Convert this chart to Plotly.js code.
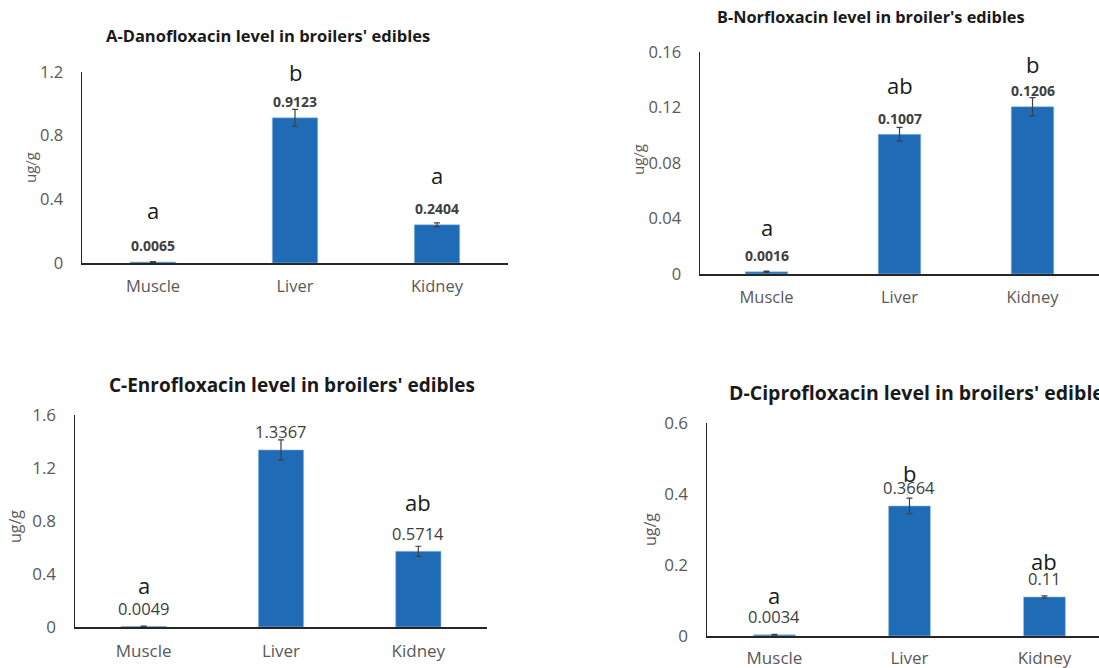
<!DOCTYPE html>
<html>
<head>
<meta charset="utf-8">
<script src="https://cdn.plot.ly/plotly-3.0.1.min.js"></script>
<style>html,body{margin:0;padding:0;background:#fff;}#chart{width:1099px;height:668px;}</style>
</head>
<body>
<div id="chart"></div>
<script>
// ---- data ----
const categories = ["Muscle", "Liver", "Kidney"];
const danofloxacin = [0.0065, 0.9123, 0.2404];
const danofloxacinErr = [0.003, 0.053, 0.012];
const danofloxacinLetters = ["a", "b", "a"];
const norfloxacin = [0.0016, 0.1007, 0.1206];
const norfloxacinErr = [0.0005, 0.005, 0.0065];
const norfloxacinLetters = ["a", "ab", "b"];
const enrofloxacin = [0.0049, 1.3367, 0.5714];
const enrofloxacinErr = [0.002, 0.075, 0.038];
const enrofloxacinLetters = ["a", "b", "ab"];
const ciprofloxacin = [0.0034, 0.3664, 0.11];
const ciprofloxacinErr = [0.001, 0.022, 0.003];
const ciprofloxacinLetters = ["a", "b", "ab"];
const titles = [
  "A-Danofloxacin level in broilers' edibles",
  "B-Norfloxacin level in broiler's edibles",
  "C-Enrofloxacin level in broilers' edibles",
  "D-Ciprofloxacin level in broilers' edibles"
];
const unitLabel = "ug/g";

// ---- styling / layout config ----
const W = 1099, H = 668;
const FONT = "'Open Sans', Lato, sans-serif";
const BAR = "#1f6bb5";
const panels = [
  {vals: danofloxacin, err: danofloxacinErr, letters: danofloxacinLetters, letterY: [0.333, 1.2, 0.553],
   x0: 82, x1: 508, yTop: 72, yBot: 263, range: [0, 1.2], dtick: 0.4, xr: [-0.5, 2.5], bw: 0.32,
   tickSize: 16.5, valSize: 14, valBold: true, valShift: 16, letSize: 22, xStand: 8,
   title: {x: 268, y: 35, size: 16.5, anchor: "center"}, unit: {x: 30, y: 168, size: 15}},
  {vals: norfloxacin, err: norfloxacinErr, letters: norfloxacinLetters, letterY: [0.0339, 0.1362, 0.1514],
   x0: 700, x1: 1099, yTop: 52, yBot: 274, range: [0, 0.16], dtick: 0.04, xr: [-0.5, 2.5], bw: 0.32,
   tickSize: 16.5, valSize: 14, valBold: true, valShift: 16, letSize: 22, xStand: 8,
   title: {x: 871, y: 17, size: 16.3, anchor: "center"}, unit: {x: 638, y: 160, size: 15}},
  {vals: enrofloxacin, err: enrofloxacinErr, letters: enrofloxacinLetters, letterY: [0.317, 1.623, 0.943],
   x0: 75, x1: 487, yTop: 415, yBot: 627, range: [0, 1.6], dtick: 0.4, xr: [-0.5, 2.5], bw: 0.33,
   tickSize: 17, valSize: 16.5, valBold: false, valShift: 18, letSize: 22, xStand: 8,
   title: {x: 292, y: 385, size: 19, anchor: "center"}, unit: {x: 15, y: 527, size: 16}},
  {vals: ciprofloxacin, err: ciprofloxacinErr, letters: ciprofloxacinLetters, letterY: [0.46, 0.46, 0.21],
   x0: 707, x1: 1099, yTop: 423, yBot: 636, range: [0, 0.6], dtick: 0.2, xr: [-0.5, 2.404], bw: 0.31,
   tickSize: 17, valSize: 16.5, valBold: false, valShift: 18, letSize: 22, xStand: 6,
   title: {x: 727, y: 393, size: 19.5, anchor: "left"}, unit: {x: 650, y: 530, size: 16}}
];
panels[3].letterY[0] = 0.116;

const traces = [];
const layout = {
  width: W, height: H,
  margin: {l: 0, r: 0, t: 0, b: 0},
  paper_bgcolor: "#fff", plot_bgcolor: "rgba(0,0,0,0)",
  showlegend: false,
  font: {family: FONT, color: "#595959"},
  annotations: []
};

panels.forEach((p, i) => {
  const n = i + 1;
  const xa = "x" + (n === 1 ? "" : n), ya = "y" + (n === 1 ? "" : n);
  const xk = "xaxis" + (n === 1 ? "" : n), yk = "yaxis" + (n === 1 ? "" : n);
  traces.push({
    type: "bar", x: categories, y: p.vals, xaxis: xa, yaxis: ya,
    width: p.bw,
    marker: {color: BAR, line: {color: "#9cc3e6", width: 0.6}},
    error_y: {type: "data", array: p.err, visible: true, color: "#404040", thickness: 1.2, width: 3},
    hoverinfo: "skip"
  });
  layout[xk] = {
    domain: [p.x0 / W, p.x1 / W], anchor: ya, range: p.xr,
    type: "category", showgrid: false, zeroline: false,
    showline: true, linecolor: "#262626", linewidth: 1.5,
    ticks: "", ticklabelstandoff: p.xStand,
    tickfont: {family: FONT, size: p.tickSize, color: "#595959"},
    fixedrange: true
  };
  layout[yk] = {
    domain: [1 - p.yBot / H, 1 - p.yTop / H], anchor: xa, range: p.range,
    dtick: p.dtick, tick0: 0, showgrid: false, zeroline: false,
    showline: true, linecolor: "#262626", linewidth: 1.5,
    ticks: "", ticklabelstandoff: 14,
    tickfont: {family: FONT, size: p.tickSize, color: "#595959"},
    fixedrange: true
  };
  categories.forEach((c, k) => {
    layout.annotations.push({
      xref: xa, yref: ya, x: c, y: p.vals[k], yanchor: "middle", yshift: p.valShift,
      text: p.valBold ? "<b>" + p.vals[k] + "</b>" : String(p.vals[k]),
      showarrow: false, borderpad: 0, font: {family: FONT, size: p.valSize, color: "#404040"}
    });
    layout.annotations.push({
      xref: xa, yref: ya, x: c, y: p.letterY[k], yanchor: "middle",
      text: p.letters[k], showarrow: false, borderpad: 0,
      font: {family: FONT, size: p.letSize, color: "#1a1a1a"}
    });
  });
  layout.annotations.push({
    xref: "paper", yref: "paper", x: p.title.x / W, y: 1 - p.title.y / H,
    xanchor: p.title.anchor, yanchor: "middle",
    text: "<b>" + titles[i] + "</b>", showarrow: false,
    font: {family: FONT, size: p.title.size, color: "#1a1a1a"}
  });
  layout.annotations.push({
    xref: "paper", yref: "paper", x: p.unit.x / W, y: 1 - p.unit.y / H,
    xanchor: "center", yanchor: "middle", textangle: -90,
    text: unitLabel, showarrow: false,
    font: {family: FONT, size: p.unit.size, color: "#595959"}
  });
});

Plotly.newPlot("chart", traces, layout, {displayModeBar: false, staticPlot: true});
</script>
</body>
</html>
